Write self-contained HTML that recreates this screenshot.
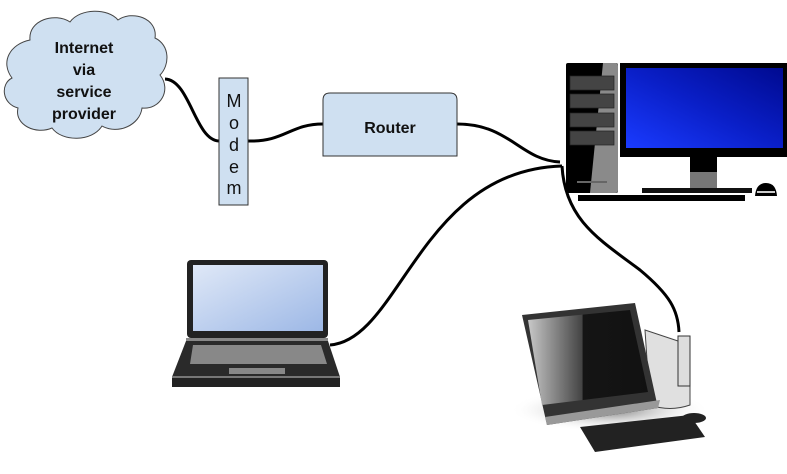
<!DOCTYPE html>
<html><head><style>
html,body{margin:0;padding:0;background:#fff;width:787px;height:474px;overflow:hidden}
svg{display:block}
text{font-family:"Liberation Sans",sans-serif}
</style></head><body>
<svg width="787" height="474" viewBox="0 0 787 474" xmlns="http://www.w3.org/2000/svg">
<defs>
<linearGradient id="blue" x1="0" y1="1" x2="1" y2="0">
<stop offset="0" stop-color="#1a3bff"/><stop offset="0.5" stop-color="#0a1fc8"/><stop offset="1" stop-color="#000a90"/>
</linearGradient>
<linearGradient id="lap" x1="0" y1="0" x2="1" y2="1">
<stop offset="0" stop-color="#dfe8f7"/><stop offset="1" stop-color="#9db8e6"/>
</linearGradient>
<linearGradient id="aio" x1="0" y1="0" x2="1" y2="0">
<stop offset="0" stop-color="#c8c8c8"/><stop offset="0.45" stop-color="#444"/><stop offset="0.46" stop-color="#151515"/><stop offset="1" stop-color="#111"/>
</linearGradient>
<radialGradient id="shadow" cx="0.5" cy="0.5" r="0.5">
<stop offset="0" stop-color="#777"/><stop offset="1" stop-color="#fff" stop-opacity="0"/>
</radialGradient>
</defs>

<!-- cables -->
<g fill="none" stroke="#000" stroke-width="3">
<path d="M165,79 C190,80 195,140 219,141"/>
<path d="M248,141 C285,142 290,124 323,124"/>
<path d="M457,124 C510,124 520,160 560,162"/>
<path d="M330,345 C400,340 420,170 562,166"/>
<path d="M562,166 C565,220 600,240 640,270 C670,295 678,310 679,332"/>
</g>

<!-- cloud -->
<path d="M30,40 C28,20 55,12 70,22 C80,8 108,8 118,20 C132,10 158,18 155,38 C170,45 170,65 160,75 C172,90 160,110 142,108 C140,125 118,135 102,126 C92,142 62,142 52,128 C36,135 14,125 18,108 C2,104 0,84 12,78 C0,62 10,44 30,40 Z" fill="#cfe0f1" stroke="#444" stroke-width="1"/>
<g font-weight="bold" font-size="16" text-anchor="middle" fill="#111">
<text x="84" y="53">Internet</text>
<text x="84" y="75">via</text>
<text x="84" y="97">service</text>
<text x="84" y="119">provider</text>
</g>

<!-- modem -->
<rect x="219" y="78" width="29" height="127" fill="#cfe0f1" stroke="#333" stroke-width="1"/>
<g font-size="18" text-anchor="middle" fill="#111">
<text x="234" y="107">M</text><text x="234" y="129">o</text><text x="234" y="151">d</text><text x="234" y="173">e</text><text x="234" y="194">m</text>
</g>

<!-- router -->
<path d="M323,156 V100 Q323,93 330,93 H450 Q457,93 457,100 V156 Z" fill="#cfe0f1" stroke="#333" stroke-width="1"/>
<text x="390" y="133" font-size="16" font-weight="bold" text-anchor="middle" fill="#111">Router</text>

<!-- desktop tower -->
<rect x="566" y="63" width="52" height="130" rx="2" fill="#000"/>
<path d="M603,63 H616 Q618,63 618,66 V190 Q618,193 615,193 H590 Z" fill="#8a8a8a"/>
<g fill="#444" stroke="#222" stroke-width="0.7">
<rect x="570" y="76" width="44" height="14"/><rect x="570" y="94" width="44" height="14"/>
<rect x="570" y="113" width="44" height="14"/><rect x="570" y="131" width="44" height="14"/>
</g>
<g fill="#666"><rect x="577" y="181" width="30" height="2"/></g>
<!-- monitor -->
<rect x="620" y="63" width="167" height="94" fill="#000"/>
<rect x="626" y="68" width="157" height="80" fill="url(#blue)"/>
<rect x="690" y="157" width="27" height="33" fill="#000"/>
<rect x="690" y="172" width="27" height="18" fill="#777"/>
<rect x="642" y="188" width="110" height="5" fill="#111"/>
<rect x="578" y="195" width="167" height="6" fill="#000"/>
<path d="M755,196 Q756,183 766,183 Q776,183 777,196 Z" fill="#000"/>
<rect x="757" y="191" width="18" height="2" fill="#ccc"/>

<!-- laptop -->
<rect x="187" y="260" width="141" height="78" rx="4" fill="#222"/>
<rect x="193" y="265" width="130" height="66" fill="url(#lap)"/>
<rect x="186" y="338" width="142" height="3" fill="#888"/>
<path d="M186,341 H328 L340,377 H172 Z" fill="#2a2a2a"/>
<path d="M193,345 H321 L327,364 H190 Z" fill="#888"/>
<rect x="229" y="368" width="56" height="6" fill="#888"/>
<rect x="172" y="377" width="168" height="10" fill="#222"/>
<rect x="172" y="376" width="168" height="2" fill="#777"/>

<!-- all-in-one -->
<ellipse cx="610" cy="410" rx="100" ry="22" fill="url(#shadow)"/>
<path d="M645,330 L690,345 L690,405 Q670,412 650,405 Z" fill="#e0e0e0" stroke="#444" stroke-width="1"/>
<rect x="678" y="336" width="12" height="50" fill="#ddd" stroke="#333"/>
<path d="M522,315 L635,303 L658,408 L547,425 Z" fill="#333"/>
<path d="M528,320 L630,310 L648,392 L542,405 Z" fill="url(#aio)"/>
<path d="M547,425 L658,408 L660,400 L545,417 Z" fill="#999"/>
<path d="M580,427 L690,415 L705,437 L595,452 Z" fill="#222"/>
<ellipse cx="694" cy="418" rx="12" ry="5" fill="#222"/>
</svg>
</body></html>
